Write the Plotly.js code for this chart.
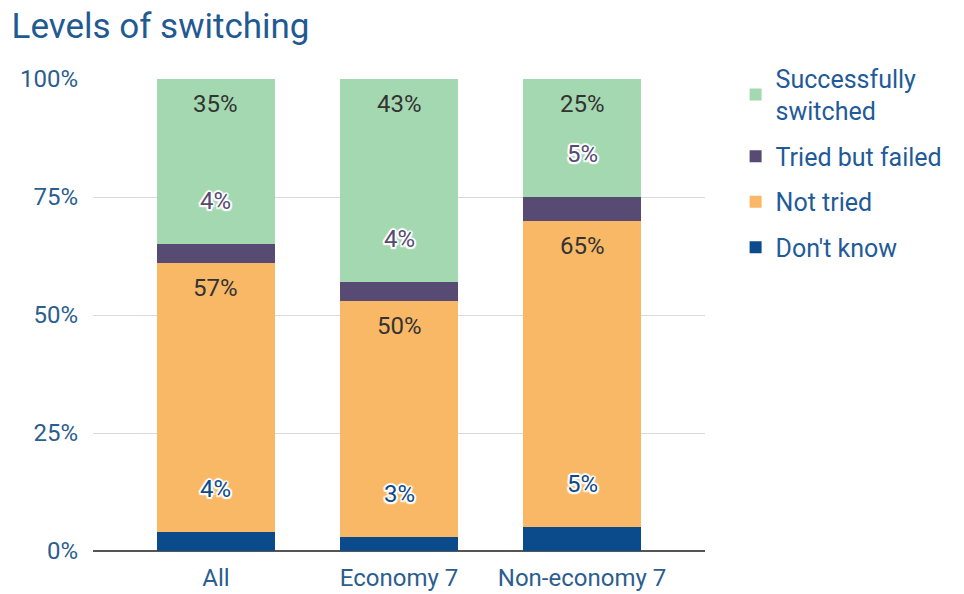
<!DOCTYPE html>
<html>
<head>
<meta charset="utf-8">
<script src="https://cdn.plot.ly/plotly-3.0.1.min.js"></script>
<style>html,body{margin:0;padding:0;background:#fff;}#chart{width:964px;height:594px;}</style>
</head>
<body>
<div id="chart"></div>
<script>
const categories = ["All", "Economy 7", "Non-economy 7"];
const dontKnow = [4, 3, 5];
const notTried = [57, 50, 65];
const triedFailed = [4, 4, 5];
const switched = [35, 43, 25];
const seriesNames = ["Don't know", "Not tried", "Tried but failed", "Successfully<br>switched"];
const tickVals = [0, 25, 50, 75, 100];
const tickText = ["0%", "25%", "50%", "75%", "100%"];

const colors = ["#0b4a8b", "#f9b866", "#574a73", "#a4d8b1"];
const seriesData = [dontKnow, notTried, triedFailed, switched];
const smallLabel = [true, false, true, false];

const traces = seriesData.map((vals, i) => ({
  type: "bar",
  name: seriesNames[i],
  legendgroup: "g" + i,
  legendrank: 100 - i,
  x: categories,
  y: vals,
  width: 0.645,
  marker: {color: colors[i], line: {width: 0}},
  hoverinfo: "none"
}));

const halo = "white 1.5px 1.5px 1px, white -1.5px -1.5px 1px, white 1.5px -1.5px 1px, white -1.5px 1.5px 1px, white 0px 2px 1px, white 0px -2px 1px, white 2px 0px 1px, white -2px 0px 1px";
const annotations = [];
categories.forEach((c, j) => {
  let cum = 0;
  seriesData.forEach((vals, i) => {
    cum += vals[j];
    if (smallLabel[i]) {
      annotations.push({
        x: c, y: cum, xref: "x", yref: "y",
        text: vals[j] + "%", showarrow: false,
        yanchor: "middle", yshift: 43,
        font: {family: "Roboto, sans-serif", size: 24, color: colors[i], shadow: halo}
      });
    } else {
      annotations.push({
        x: c, y: cum, xref: "x", yref: "y",
        text: vals[j] + "%", showarrow: false,
        yanchor: "middle", yshift: -25,
        font: {family: "Roboto, sans-serif", size: 24, color: "#333333"}
      });
    }
  });
});

const layout = {
  width: 964, height: 594,
  margin: {l: 93, r: 259, t: 79, b: 43, pad: 0},
  paper_bgcolor: "#ffffff", plot_bgcolor: "#ffffff",
  barmode: "stack",
  font: {family: "Roboto, sans-serif", color: "#2b5e8f"},
  title: {text: "Levels of switching", x: 0.012, xanchor: "left", y: 0.956, yanchor: "middle",
          font: {family: "Roboto, sans-serif", size: 35, color: "#1f5b92"}},
  xaxis: {
    range: [-0.672, 2.672], showgrid: false, zeroline: false, showline: false,
    ticks: "", ticklabelstandoff: 10, tickfont: {size: 24, color: "#2b5e8f"}, fixedrange: true
  },
  yaxis: {
    range: [0, 100], tickvals: tickVals, ticktext: tickText,
    showgrid: true, gridcolor: "#d9d9d9", gridwidth: 1,
    zeroline: true, zerolinecolor: "#555555", zerolinewidth: 2,
    showline: false, ticks: "", ticklabelstandoff: 14,
    tickfont: {size: 24, color: "#2b5e8f"}, fixedrange: true
  },
  legend: {
    x: 1.05, y: 1.05, xanchor: "left", yanchor: "top",
    traceorder: "grouped", tracegroupgap: 10,
    font: {family: "Roboto, sans-serif", size: 25, color: "#1f5b99"},
    itemwidth: 30, bgcolor: "rgba(0,0,0,0)"
  },
  annotations: annotations,
  showlegend: true
};

Plotly.newPlot("chart", traces, layout, {displayModeBar: false, staticPlot: true});
</script>
</body>
</html>
